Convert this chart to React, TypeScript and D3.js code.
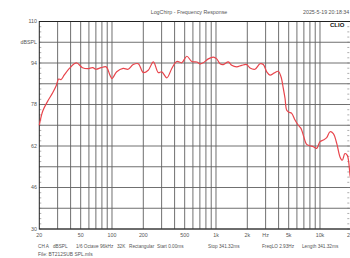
import * as d3 from "d3";

// Frequency response (Hz, dBSPL)
const freqs: number[] = [
  20, 21.6, 24.1, 26.9, 29, 30.7, 32.3, 34.8, 38.9, 43.3, 46, 52, 58.3, 65.3, 70.2, 78.6, 87.9, 95.6, 100,
  111, 128, 143, 160, 179, 200, 223, 250, 279, 301, 337, 376, 420, 469, 524, 585, 654, 705, 755, 843, 942,
  1016, 1094, 1176, 1314, 1416, 1581, 1767, 1974, 2124, 2372, 2650, 2852, 3076, 3306, 3638, 3975, 4218,
  4438, 4610, 4786, 5036, 5346, 5752, 6186, 6566, 6906, 7448, 8018, 8630, 9294, 10006, 10766, 11596,
  12486, 13430, 14484, 15572, 16378, 17378, 18306, 19452, 20000,
];
const spl: number[] = [
  70, 75.5, 79.3, 82.5, 85.1, 87.8, 87.6, 89.4, 91.9, 93.7, 94, 92.2, 91.8, 92.2, 91.6, 92.2, 92.5, 89.3, 88,
  90.6, 91.9, 91.6, 93.4, 93.7, 90.3, 91.2, 94.4, 90.3, 90.6, 88.3, 91.9, 94.6, 94.1, 96.6, 94.6, 94.4, 93.7,
  94.1, 95.6, 96.3, 95.6, 93.7, 93.4, 94.4, 93.1, 92.5, 93.1, 93.4, 92.1, 91.6, 93.7, 93.4, 90.6, 89.3, 90.2,
  90.8, 88.7, 84.2, 80.4, 75.8, 75, 74.6, 72, 70, 68.8, 66.2, 62.6, 62.1, 61.7, 61.1, 63.7, 64.3, 65.2, 67.5,
  66.8, 63, 57.8, 56.5, 59.1, 58.4, 50.8, 48,
];

const yGrid: number[] = [110, 102, 94, 86, 78, 70, 62, 54, 46, 38, 30];
const yLabels: { v: number; t: string }[] = [
  { v: 110, t: "110" },
  { v: 102, t: "dBSPL" },
  { v: 94, t: "94" },
  { v: 78, t: "78" },
  { v: 62, t: "62" },
  { v: 46, t: "46" },
  { v: 30, t: "30" },
];
const xLabels: { f: number; t: string }[] = [
  { f: 20, t: "20" },
  { f: 50, t: "50" },
  { f: 100, t: "100" },
  { f: 200, t: "200" },
  { f: 500, t: "500" },
  { f: 1000, t: "1k" },
  { f: 2000, t: "2k" },
  { f: 3000, t: "Hz" },
  { f: 5000, t: "5k" },
  { f: 10000, t: "10k" },
  { f: 20000, t: "20k" },
];
const footerParts: string[] = [
  "CH A", "dBSPL", "1/6 Octave", "96kHz", "32K", "Rectangular",
  "Start 0.00ms", "Stop 341.32ms", "FreqLO 2.93Hz", "Length 341.32ms",
];
const footerX: number[] = [38, 53, 76, 100, 117, 129, 157, 208, 262, 302];

export default function App() {
  const W = 350;
  const H = 258;
  const left = 39.3;
  const right = 351.3;
  const top = 21.5;
  const bottom = 229;

  const x = d3.scaleLog().domain([20, 20000]).range([left, right]);
  const y = d3.scaleLinear().domain([30, 110]).range([bottom, top]);

  // log grid: 30..90, 100..900, 1k..9k, 10k
  const vGrid: number[] = [];
  for (const dec of [10, 100, 1000, 10000]) {
    for (let m = 1; m <= 9; m++) {
      const f = m * dec;
      if (f > 20 && f < 20000) vGrid.push(f);
    }
  }
  const minor = d3.range(30, 110, 2);

  const data = freqs.map((f, i) => [f, spl[i]] as [number, number]);
  const line = d3
    .line<[number, number]>()
    .x((d) => x(d[0]))
    .y((d) => y(d[1]))
    .curve(d3.curveCatmullRom.alpha(0.5));

  const font = "'Liberation Sans', Arial, sans-serif";
  const txt = "#555";

  return (
    <svg
      width={W}
      height={H}
      style={{ position: "fixed", left: 0, top: 0, background: "#fff" }}
      fontFamily={font}
    >
      <rect x={0} y={0} width={W} height={H} fill="#fff" />
      <text x={189} y={14} fontSize={5.3} fill={txt} textAnchor="middle">
        LogChirp - Frequency Response
      </text>
      <text x={303} y={14} fontSize={5.3} fill={txt}>
        2025-5-19 20:18:34
      </text>

      <g stroke="#606060" strokeWidth={0.9}>
        {vGrid.map((f) => (
          <line key={"v" + f} x1={x(f)} x2={x(f)} y1={top} y2={bottom} />
        ))}
        {yGrid.map((v) => (
          <line key={"h" + v} x1={left} x2={right} y1={y(v)} y2={y(v)} />
        ))}
      </g>
      <g stroke="#777" strokeWidth={0.6}>
        {minor.map((v) => (
          <line key={"m" + v} x1={left} x2={left + 2} y1={y(v)} y2={y(v)} />
        ))}
        {minor.map((v) => (
          <line key={"r" + v} x1={right - 4} x2={right - 2} y1={y(v)} y2={y(v)} />
        ))}
      </g>
      <rect x={left} y={top} width={right - left} height={bottom - top} fill="none" stroke="#222" strokeWidth={1} />

      <path d={line(data) ?? ""} fill="none" stroke="#e8454c" strokeWidth={1.2} />

      <text x={330} y={27} fontSize={6} fontWeight="bold" fill="#111">
        CLIO
      </text>

      {yLabels.map((d) => (
        <text key={d.t} x={37} y={y(d.v)} dy="0.35em" fontSize={5.3} fill={txt} textAnchor="end">
          {d.t}
        </text>
      ))}
      {xLabels.map((d) => (
        <text key={d.t} x={x(d.f)} y={237} fontSize={5.3} fill={txt} textAnchor="middle">
          {d.t}
        </text>
      ))}
      <text y={247.5} fontSize={4.7} fill={txt}>
        {footerParts.map((p, i) => (
          <tspan key={p} x={footerX[i]}>
            {p}
          </tspan>
        ))}
      </text>
      <text x={38} y={256} fontSize={4.9} fill={txt}>
        File: BT212SUB SPL.mls
      </text>
    </svg>
  );
}
